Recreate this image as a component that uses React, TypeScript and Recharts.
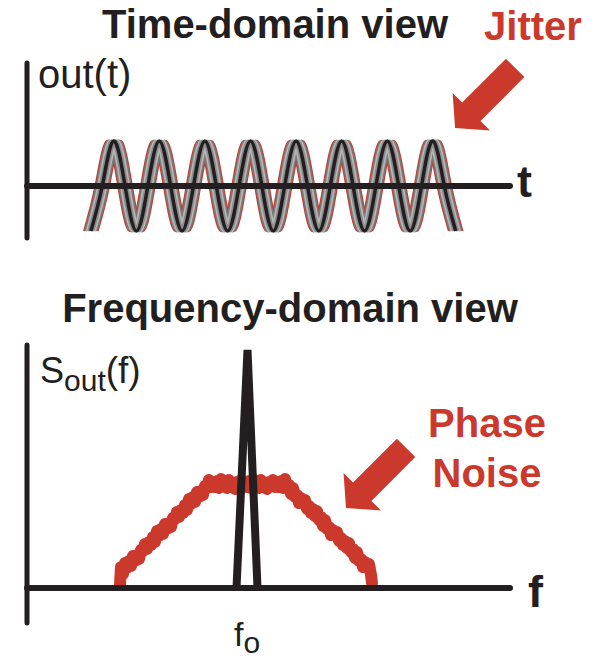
import { LineChart, Line, XAxis, YAxis, ReferenceLine, ReferenceDot } from "recharts";

const INK = "#231f20";
const RED = "#cb392d";
const FONT = "'Liberation Sans', Arial, Helvetica, sans-serif";

// time domain: t in oscillator periods, sampled every quarter period
const waveT = [
  1.4, 1.65, 1.9, 2.15, 2.4, 2.65, 2.9, 3.15, 3.4, 3.65, 3.9, 4.15, 4.4, 4.65, 4.9, 5.15, 5.4,
  5.65, 5.9, 6.15, 6.4, 6.65, 6.9, 7.15, 7.4, 7.65, 7.9, 8.15, 8.4, 8.65, 8.9, 9.15, 9.4,
];
const waveV = [
  -1, 0, 1, 0, -1, 0, 1, 0, -1, 0, 1, 0, -1, 0, 1, 0, -1,
  0, 1, 0, -1, 0, 1, 0, -1, 0, 1, 0, -1, 0, 1, 0, -1,
];
// edge shifts of the jittered copies (periods), outermost first
const jitterSpread = [0.15, 0.115, 0.08, 0.045];

// frequency domain: f in bins, S in arbitrary units
const f0 = 220;
const carrierF = [209.5, 220.5, 230.5];
const carrierS = [0, 238, 0];
const phaseNoise = [
  [93, 4], [94, 21], [96, 14], [98, 25], [100, 20], [102, 27], [104, 22], [106, 32], [108, 27],
  [110, 33], [112, 29], [114, 38], [116, 37], [118, 44], [120, 39], [122, 46], [124, 43],
  [126, 51], [128, 46], [130, 57], [132, 52], [134, 59], [136, 54], [138, 64], [140, 59],
  [142, 65], [144, 61], [146, 70], [148, 69], [150, 76], [152, 71], [154, 78], [156, 75],
  [158, 83], [160, 78], [162, 89], [164, 84], [166, 91], [168, 86], [170, 96], [172, 91],
  [174, 97], [176, 93], [178, 102], [180, 101], [182, 108], [184, 101], [186, 106], [188, 101],
  [190, 107], [192, 100], [194, 109], [196, 102], [198, 107], [200, 100], [202, 108], [204, 101],
  [206, 105], [208, 99], [210, 106], [212, 103], [214, 108], [216, 101], [218, 106], [220, 101],
  [222, 107], [224, 100], [226, 109], [228, 102], [230, 107], [232, 100], [234, 108], [236, 101],
  [238, 105], [240, 99], [242, 106], [244, 103], [246, 108], [248, 101], [250, 106], [252, 101],
  [254, 107], [256, 100], [258, 109], [260, 100], [262, 103], [264, 94], [266, 100], [268, 91],
  [270, 93], [272, 85], [274, 90], [276, 85], [278, 88], [280, 79], [282, 82], [284, 75],
  [286, 79], [288, 72], [290, 77], [292, 68], [294, 71], [296, 62], [298, 68], [300, 59],
  [302, 61], [304, 53], [306, 58], [308, 53], [310, 56], [312, 47], [314, 50], [316, 43],
  [318, 47], [320, 40], [322, 45], [324, 36], [326, 39], [328, 30], [330, 36], [332, 27],
  [334, 29], [336, 21], [338, 26], [340, 21], [342, 24], [344, 13], [345, 5],
];

const shifted = (off: number) => waveT.map((t, i) => ({ t: t + off, v: waveV[i] }));
const carrier = carrierF.map((f, i) => ({ f, s: carrierS[i] }));
const noise = phaseNoise.map(([f, s]) => ({ f, s }));

// block arrow, tip at (cx, cy), tail up and to the right
function Arrow(props: any) {
  const { cx, cy } = props;
  const k = Math.SQRT1_2;
  const pt = (a: number, b: number) => `${cx + k * a + k * b},${cy - k * a + k * b}`;
  const pts = [pt(0, 0), pt(23, 26.5), pt(23, 13), pt(85, 13), pt(85, -13), pt(23, -13), pt(23, -26.5)];
  return <polygon points={pts.join(" ")} fill={RED} />;
}

function F0Tick({ x, y }: any) {
  return (
    <text x={x} y={y + 23} textAnchor="middle" fill={INK} fontFamily={FONT}>
      <tspan fontSize={34}>f</tspan>
      <tspan fontSize={30} dy={7}>o</tspan>
    </text>
  );
}

const wave = (off: number, stroke: string, w: number) => (
  <Line
    key={`${off}-${stroke}`}
    data={shifted(off)}
    dataKey="v"
    type="natural"
    stroke={stroke}
    strokeWidth={w}
    dot={false}
    activeDot={false}
    isAnimationActive={false}
  />
);

const grays = ["#7a7a7a", "#b8b8b8", "#8c8c8c"];

export default function App() {
  return (
    <div style={{ position: "absolute", left: 0, top: 0, width: 602, height: 659, background: "#fff" }}>
      <div style={{ position: "absolute", left: 0, top: 0 }}>
        <LineChart width={602} height={260} margin={{ top: 63, right: 92, bottom: 22, left: 27 }}>
          <XAxis dataKey="t" type="number" domain={[0, 10.59]} hide allowDataOverflow />
          <YAxis type="number" domain={[-1.156, 2.733]} hide allowDataOverflow />
          {jitterSpread.map((s, i) =>
            i === 0 ? [wave(-s, RED, 2), wave(s, RED, 2)] : [wave(-s, grays[i - 1], 3), wave(s, grays[i - 1], 3)]
          )}
          {wave(0, INK, 3.5)}
          <ReferenceLine x={0} stroke={INK} strokeWidth={5} strokeLinecap="round" />
          <ReferenceLine y={0} stroke={INK} strokeWidth={6} strokeLinecap="round" />
          <ReferenceDot x={9.386} y={1.289} r={0} shape={Arrow} ifOverflow="visible" />
        </LineChart>
      </div>
      <div style={{ position: "absolute", left: 0, top: 300 }}>
        <LineChart width={602} height={359} margin={{ top: 45, right: 92, bottom: 0, left: 27 }}>
          <XAxis
            dataKey="f"
            type="number"
            domain={[0, 483]}
            ticks={[f0]}
            tick={<F0Tick />}
            axisLine={false}
            tickLine={false}
            tickSize={0}
            tickMargin={0}
            height={36}
            allowDataOverflow
          />
          <YAxis type="number" domain={[-35, 243]} hide allowDataOverflow />
          <Line
            data={noise}
            dataKey="s"
            type="linear"
            stroke={RED}
            strokeWidth={12}
            strokeLinejoin="round"
            strokeLinecap="round"
            dot={false}
            activeDot={false}
            isAnimationActive={false}
          />
          <Line
            data={carrier}
            dataKey="s"
            type="linear"
            stroke={INK}
            strokeWidth={8}
            strokeLinejoin="bevel"
            dot={false}
            activeDot={false}
            isAnimationActive={false}
          />
          <ReferenceLine x={0} stroke={INK} strokeWidth={5} strokeLinecap="round" />
          <ReferenceLine y={0} stroke={INK} strokeWidth={6} strokeLinecap="round" />
          <ReferenceDot x={319} y={80} r={0} shape={Arrow} ifOverflow="visible" />
        </LineChart>
      </div>
      <svg width={602} height={659} style={{ position: "absolute", left: 0, top: 0, pointerEvents: "none" }} fontFamily={FONT}>
        <text x={275} y={38} textAnchor="middle" fontSize={40} fontWeight="bold" fill={INK}>Time-domain view</text>
        <text x={533} y={40} textAnchor="middle" fontSize={40} fontWeight="bold" fill={RED}>Jitter</text>
        <text x={38} y={88} fontSize={40} fill={INK}>out(t)</text>
        <text x={517} y={197} fontSize={45} fontWeight="bold" fill={INK}>t</text>
        <text x={290} y={322} textAnchor="middle" fontSize={40} fontWeight="bold" fill={INK}>Frequency-domain view</text>
        <text x={40} y={383} fill={INK}>
          <tspan fontSize={36}>S</tspan>
          <tspan fontSize={30} dy={8}>out</tspan>
          <tspan fontSize={37} dy={-8}>(f)</tspan>
        </text>
        <text x={487} y={437} textAnchor="middle" fontSize={40} fontWeight="bold" fill={RED}>Phase</text>
        <text x={487} y={487} textAnchor="middle" fontSize={40} fontWeight="bold" fill={RED}>Noise</text>
        <text x={528} y={607} fontSize={45} fontWeight="bold" fill={INK}>f</text>
      </svg>
    </div>
  );
}
